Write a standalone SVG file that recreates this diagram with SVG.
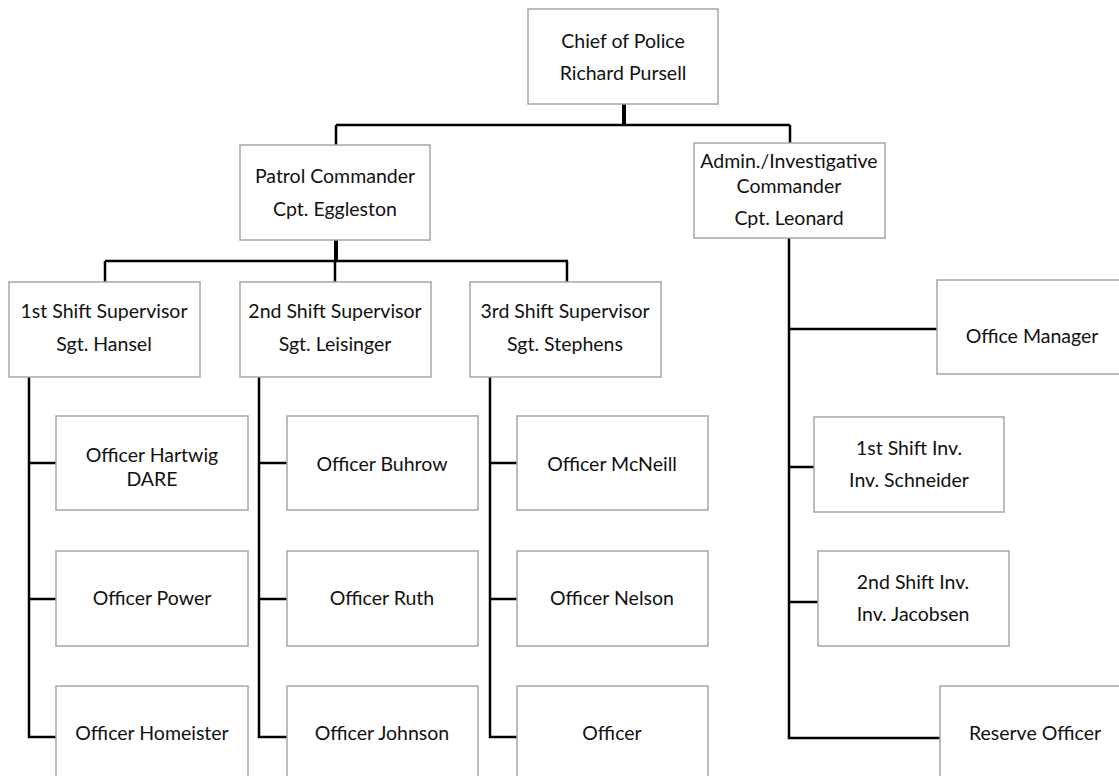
<svg xmlns="http://www.w3.org/2000/svg" width="1119" height="776" viewBox="0 0 1119 776">
<style>
.box{fill:#fff;stroke:#a6a6a6;stroke-width:1.5}
.t{font-family:Lato,"Liberation Sans",sans-serif;font-size:19.5px;fill:#111;text-anchor:middle}
.c{fill:none;stroke:#000;stroke-width:2.5}
.ct{fill:none;stroke:#000;stroke-width:4}
</style>
<rect width="1119" height="776" fill="#fff"/>
<g id="connectors">
<path class="ct" d="M624 104V125"/>
<path class="c" d="M336 125H790M336 125V145M790 125V143"/>
<path class="ct" d="M336 240V261"/>
<path class="c" d="M105 261H568M105 261V282M335 261V282M567 261V282"/>
<path class="c" d="M29 377V737H56M29 463H56M29 599H56"/>
<path class="c" d="M259 377V737H287M259 463H287M259 599H287"/>
<path class="c" d="M490 377V737H517M490 463H517M490 599H517"/>
<path class="c" d="M789 238V738H940M789 329H937M789 467H814M789 602H818"/>
</g>
<g id="chief"><rect class="box" x="528" y="9" width="190" height="95"/><text class="t" x="623" y="48">Chief of Police</text><text class="t" x="623" y="80">Richard Pursell</text></g>
<g id="patrol"><rect class="box" x="240" y="145" width="190" height="95"/><text class="t" x="335" y="183">Patrol Commander</text><text class="t" x="335" y="216">Cpt. Eggleston</text></g>
<g id="admin"><rect class="box" x="694" y="143" width="191" height="95"/><text class="t" x="789" y="168">Admin./Investigative</text><text class="t" x="789" y="193">Commander</text><text class="t" x="789" y="225">Cpt. Leonard</text></g>
<g id="shift1"><rect class="box" x="9" y="282" width="191" height="95"/><text class="t" x="104" y="318">1st Shift Supervisor</text><text class="t" x="104" y="351">Sgt. Hansel</text></g>
<g id="shift2"><rect class="box" x="240" y="282" width="191" height="95"/><text class="t" x="335" y="318">2nd Shift Supervisor</text><text class="t" x="335" y="351">Sgt. Leisinger</text></g>
<g id="shift3"><rect class="box" x="470" y="282" width="191" height="95"/><text class="t" x="565" y="318">3rd Shift Supervisor</text><text class="t" x="565" y="351">Sgt. Stephens</text></g>
<g id="officemanager"><rect class="box" x="937" y="280" width="190" height="94"/><text class="t" x="1032" y="343">Office Manager</text></g>
<g id="hartwig"><rect class="box" x="56" y="416" width="192" height="94"/><text class="t" x="152" y="462">Officer Hartwig</text><text class="t" x="152" y="486">DARE</text></g>
<g id="power"><rect class="box" x="56" y="551" width="192" height="95"/><text class="t" x="152" y="605">Officer Power</text></g>
<g id="homeister"><rect class="box" x="56" y="686" width="192" height="95"/><text class="t" x="152" y="740">Officer Homeister</text></g>
<g id="buhrow"><rect class="box" x="287" y="416" width="191" height="94"/><text class="t" x="382" y="471">Officer Buhrow</text></g>
<g id="ruth"><rect class="box" x="287" y="551" width="191" height="95"/><text class="t" x="382" y="605">Officer Ruth</text></g>
<g id="johnson"><rect class="box" x="287" y="686" width="191" height="95"/><text class="t" x="382" y="740">Officer Johnson</text></g>
<g id="mcneill"><rect class="box" x="517" y="416" width="191" height="94"/><text class="t" x="612" y="471">Officer McNeill</text></g>
<g id="nelson"><rect class="box" x="517" y="551" width="191" height="95"/><text class="t" x="612" y="605">Officer Nelson</text></g>
<g id="officer"><rect class="box" x="517" y="686" width="191" height="95"/><text class="t" x="612" y="740">Officer</text></g>
<g id="inv1"><rect class="box" x="814" y="417" width="190" height="95"/><text class="t" x="909" y="455">1st Shift Inv.</text><text class="t" x="909" y="487">Inv. Schneider</text></g>
<g id="inv2"><rect class="box" x="818" y="551" width="191" height="95"/><text class="t" x="913" y="589">2nd Shift Inv.</text><text class="t" x="913" y="621">Inv. Jacobsen</text></g>
<g id="reserve"><rect class="box" x="940" y="686" width="190" height="95"/><text class="t" x="1035" y="740">Reserve Officer</text></g>
</svg>
